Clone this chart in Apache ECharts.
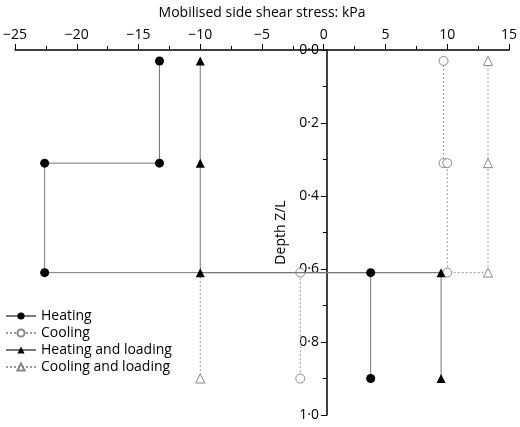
<!DOCTYPE html>
<html><head><meta charset="utf-8">
<script src="https://cdn.jsdelivr.net/npm/echarts@6/dist/echarts.min.js"></script>
<style>html,body{margin:0;background:#fff}#c{width:520px;height:427px}</style>
</head><body><div id="c"></div>
<script>
// [x, depth, marker?]
const heating = [[-13.3,0.03,1],[-13.3,0.31,1],[-22.6,0.31,1],[-22.6,0.61,1],[3.8,0.61,1],[3.8,0.9,1]]
const cooling = [[9.7,0.03,1],[9.7,0.31,1],[10.0,0.31,1],[10.0,0.61,1],[-1.9,0.61,1],[-1.9,0.9,1]]
const heatLoad = [[-10,0.03,1],[-10,0.31,1],[-10,0.61,1],[9.5,0.61,1],[9.5,0.9,1]]
const coolLoad = [[13.3,0.03,1],[13.3,0.31,1],[13.3,0.61,1],[-10,0.61,0],[-10,0.9,1]]
const xTicks = [-25, 15, 5]
const yTicks = [0, 1, 0.2]

const toData = arr => arr.map(p => p[2] ? [p[0], p[1]] : { value: [p[0], p[1]], symbol: 'none' })
const font = '"Open Sans", "Noto Sans", sans-serif'

function mk(name, arr, symbol, filled, dashed) {
  return {
    name, type: 'line', data: toData(arr), symbol, symbolSize: 9,
    lineStyle: { color: dashed ? '#999' : '#777', width: 1, type: dashed ? [2, 2] : 'solid' },
    itemStyle: filled ? { color: '#000' } : { color: '#fff', borderColor: '#888', borderWidth: 1 },
    z: dashed ? 2 : 3, animation: false
  }
}

const gridLeft = 10, gridRight = 11
const chart = echarts.init(document.getElementById('c'))
// pixel offset of x=0 from the grid's left edge
const zeroOff = (0 - xTicks[0]) / (xTicks[1] - xTicks[0]) * (520 - gridLeft - gridRight)
chart.setOption({
  animation: false,
  textStyle: { fontFamily: font },
  grid: { left: gridLeft, right: gridRight, top: 50, bottom: 12 },
  legend: {
    orient: 'vertical', left: 0, top: 304, itemGap: 3, itemWidth: 30, itemHeight: 9,
    textStyle: { fontSize: 14, color: '#000', fontFamily: font },
    data: ['Heating', 'Cooling', 'Heating and loading', 'Cooling and loading']
  },
  xAxis: {
    type: 'value', position: 'top', min: xTicks[0], max: xTicks[1], interval: xTicks[2],
    name: 'Mobilised side shear stress: kPa', nameLocation: 'middle', nameGap: 30,
    nameTextStyle: { fontSize: 14, color: '#000' },
    axisLine: { onZero: false, lineStyle: { color: '#000', width: 1.5 } },
    axisTick: { length: 6, lineStyle: { color: '#000' } },
    minorTick: { show: true, splitNumber: 2, length: 4, lineStyle: { color: '#000' } },
    axisLabel: { fontSize: 14, color: '#000', formatter: v => v < 0 ? '\u2212' + (-v) : String(v) },
    splitLine: { show: false }
  },
  yAxis: {
    type: 'value', inverse: true, min: yTicks[0], max: yTicks[1], interval: yTicks[2],
    position: 'left', offset: -zeroOff,
    name: 'Depth Z/L', nameLocation: 'middle', nameGap: -16, nameRotate: 90,
    nameTextStyle: { fontSize: 14, color: '#000', verticalAlign: 'bottom' },
    axisLine: { onZero: false, lineStyle: { color: '#000', width: 1.5 } },
    axisTick: { length: 6, lineStyle: { color: '#000' } },
    minorTick: { show: true, splitNumber: 2, length: 4, lineStyle: { color: '#000' } },
    axisLabel: { fontSize: 14, color: '#000', formatter: v => v.toFixed(1).replace('.', '\u00b7') },
    splitLine: { show: false }
  },
  series: [
    mk('Heating', heating, 'circle', true, false),
    mk('Cooling', cooling, 'circle', false, true),
    mk('Heating and loading', heatLoad, 'triangle', true, false),
    mk('Cooling and loading', coolLoad, 'triangle', false, true)
  ]
})
</script></body></html>
